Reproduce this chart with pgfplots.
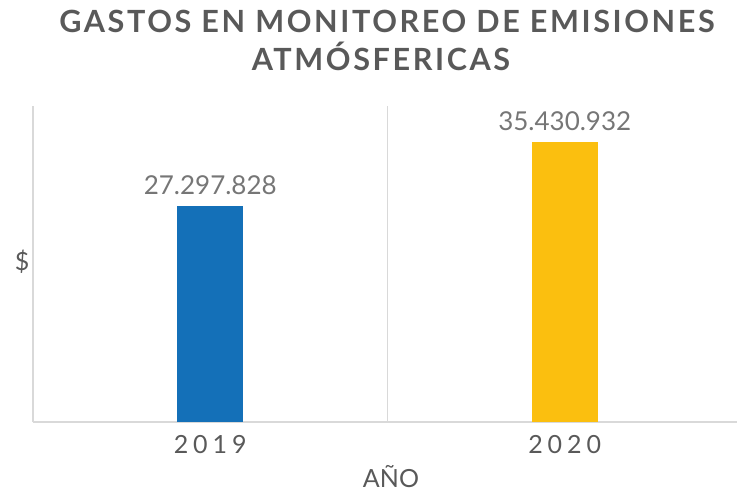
\documentclass[border=0pt]{standalone}
\usepackage{fontspec}
\setmainfont{Lato}
\usepackage{pgfplots}
\pgfplotsset{compat=1.18}
\definecolor{barblue}{HTML}{1470B8}
\definecolor{baryellow}{HTML}{FBBF0F}
\definecolor{txtgray}{HTML}{595959}
\definecolor{lblgray}{HTML}{767676}
\definecolor{gridgray}{HTML}{D9D9D9}

\begin{document}
\begin{tikzpicture}
\useasboundingbox (0,0) rectangle (368.5pt,250pt);
% title
\node[anchor=base, text=txtgray, font={\fontsize{15.3}{18}\selectfont\bfseries\addfontfeatures{LetterSpace=8.5}}]
  at (193.5pt,234pt) {GASTOS EN MONITOREO DE EMISIONES};
\node[anchor=base, text=txtgray, font={\fontsize{15.3}{18}\selectfont\bfseries\addfontfeatures{LetterSpace=8.5}}]
  at (190.5pt,215pt) {ATMÓSFERICAS};
% axis labels
\node[anchor=center, text=txtgray, font={\fontsize{12.5}{15}\selectfont}] at (11pt,119pt) {\$};
\node[anchor=base, text=txtgray, font={\fontsize{12.5}{15}\selectfont}] at (195.5pt,6.5pt) {AÑO};

\begin{axis}[
  at={(16.5pt,39pt)}, anchor=south west,
  scale only axis,
  width=354.5pt, height=158pt,
  xmin=-0.5, xmax=1.5,
  ymin=0, ymax=40000000,
  axis x line*=bottom,
  axis y line=none,
  x axis line style={draw=gridgray, line width=0.75pt, -},
  xtick={0,1},
  xticklabels={2019,2020},
  major tick length=0pt,
  minor xtick={-0.5,0.5,1.5},
  minor tick length=0pt,
  minor x grid style={draw=gridgray, line width=0.6pt},
  xminorgrids=true,
  xticklabel style={anchor=base, yshift=-15.5pt, text=txtgray,
    font={\fontsize{12.5}{15}\selectfont\addfontfeatures{LetterSpace=20}}},
  ybar, bar width=33pt, bar shift=0pt,
  point meta=explicit symbolic,
  nodes near coords,
  every node near coord/.append style={anchor=base, yshift=6pt, text=lblgray,
    font={\fontsize{13}{15}\selectfont}},
  clip=false,
]
\addplot[fill=barblue, draw=none] coordinates {(0,27297828) [27.297.828]};
\addplot[fill=baryellow, draw=none] coordinates {(1,35430932) [35.430.932]};
\end{axis}
\end{tikzpicture}
\end{document}
